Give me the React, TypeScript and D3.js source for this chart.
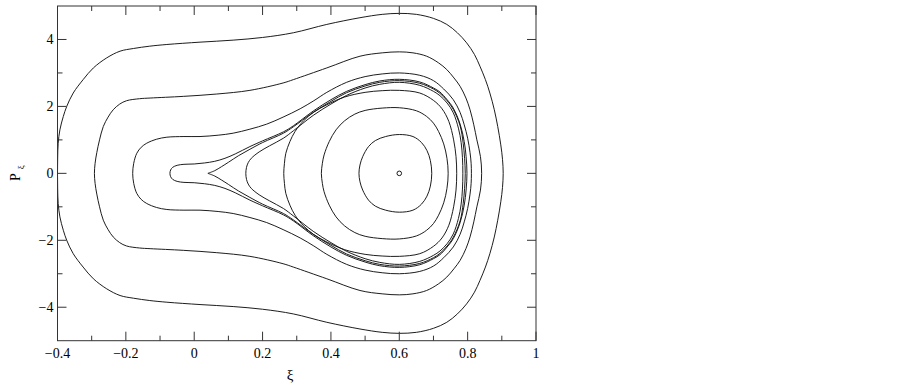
import React from 'react'
import * as d3 from 'd3'

// upper halves of the orbits, [xi, p] (lower half is the mirror image)
const outerOrbit = [
  [-0.4, 0], [-0.3995, 0.45], [-0.398, 0.9], [-0.393, 1.3], [-0.383, 1.7], [-0.373, 2.0], [-0.354, 2.4],
  [-0.325, 2.8], [-0.295, 3.15], [-0.256, 3.45], [-0.217, 3.65], [-0.178, 3.73], [-0.13, 3.8], [-0.08, 3.85],
  [0.017, 3.92], [0.114, 3.98], [0.2, 4.06], [0.29, 4.2], [0.388, 4.45], [0.485, 4.65], [0.55, 4.75],
  [0.6, 4.78], [0.65, 4.75], [0.7, 4.63], [0.739, 4.45], [0.77, 4.2], [0.797, 3.9], [0.82, 3.55],
  [0.836, 3.2], [0.852, 2.8], [0.865, 2.4], [0.878, 1.9], [0.888, 1.4], [0.897, 0.85], [0.902, 0.42], [0.904, 0],
]
const orbit2 = [
  [-0.292, 0], [-0.29, 0.3], [-0.285, 0.62], [-0.277, 1.0], [-0.266, 1.4], [-0.252, 1.68], [-0.237, 1.9],
  [-0.218, 2.07], [-0.198, 2.17], [-0.16, 2.23], [-0.129, 2.25], [-0.032, 2.3], [0.066, 2.37], [0.163, 2.48],
  [0.26, 2.7], [0.29, 2.8], [0.388, 3.15], [0.485, 3.5], [0.55, 3.6], [0.6, 3.63], [0.64, 3.6], [0.68, 3.5],
  [0.715, 3.3], [0.739, 3.1], [0.76, 2.85], [0.778, 2.6], [0.795, 2.25], [0.807, 1.9], [0.818, 1.45],
  [0.827, 1.0], [0.8375, 0.5], [0.841, 0],
]
const orbit3 = [
  [-0.18, 0], [-0.177, 0.3], [-0.168, 0.6], [-0.155, 0.78], [-0.139, 0.9], [-0.11, 1.02], [-0.08, 1.08],
  [-0.03, 1.1], [0.017, 1.1], [0.07, 1.14], [0.114, 1.2], [0.163, 1.32], [0.212, 1.47], [0.26, 1.68],
  [0.31, 1.93], [0.35, 2.17], [0.388, 2.42], [0.446, 2.72], [0.5, 2.89], [0.55, 2.97], [0.6, 3.0],
  [0.66, 2.93], [0.7, 2.77], [0.73, 2.52], [0.758, 2.2], [0.778, 1.82], [0.79, 1.45], [0.8, 1.05],
  [0.807, 0.62], [0.8102, 0.3], [0.811, 0],
]
const tongueOrbit = [
  [-0.071, 0], [-0.069, 0.1], [-0.063, 0.18], [-0.05, 0.24], [-0.03, 0.27], [0, 0.28], [0.03, 0.31],
  [0.06, 0.36], [0.09, 0.45], [0.12, 0.58], [0.163, 0.8], [0.2, 0.97], [0.261, 1.24], [0.29, 1.42],
  [0.348, 1.86], [0.4, 2.2], [0.446, 2.45], [0.5, 2.65], [0.543, 2.76], [0.6, 2.81], [0.66, 2.73],
  [0.7, 2.55], [0.719, 2.43], [0.74, 2.2], [0.758, 1.95], [0.778, 1.47], [0.79, 0.95], [0.7955, 0.5], [0.798, 0],
]
const separatrix = [
  [0.04, 0], [0.06, 0.08], [0.08, 0.2], [0.1, 0.33], [0.13, 0.53], [0.163, 0.72], [0.2, 0.92], [0.261, 1.2],
  [0.29, 1.39], [0.348, 1.82], [0.4, 2.15], [0.446, 2.41], [0.5, 2.61], [0.543, 2.72], [0.6, 2.77],
  [0.66, 2.69], [0.7, 2.52], [0.719, 2.39], [0.74, 2.17], [0.758, 1.91], [0.778, 1.42], [0.787, 0.9],
  [0.791, 0.45], [0.793, 0],
]
const orbit015 = [
  [0.151, 0], [0.153, 0.18], [0.158, 0.32], [0.167, 0.45], [0.19, 0.64], [0.22, 0.82], [0.261, 1.05],
  [0.29, 1.27], [0.348, 1.73], [0.4, 2.07], [0.446, 2.33], [0.5, 2.55], [0.543, 2.66], [0.6, 2.72],
  [0.66, 2.63], [0.7, 2.45], [0.719, 2.32], [0.74, 2.1], [0.758, 1.81], [0.773, 1.35], [0.781, 0.92],
  [0.7848, 0.47], [0.786, 0],
]
const orbit026 = [
  [0.262, 0], [0.264, 0.3], [0.268, 0.6], [0.28, 0.95], [0.295, 1.25], [0.32, 1.57], [0.35, 1.83],
  [0.388, 2.05], [0.44, 2.28], [0.5, 2.42], [0.55, 2.47], [0.6, 2.48], [0.66, 2.4], [0.7, 2.18],
  [0.725, 1.93], [0.745, 1.55], [0.759, 1.0], [0.766, 0.5], [0.768, 0],
]
const orbit037 = [
  [0.372, 0], [0.375, 0.3], [0.38, 0.55], [0.395, 0.95], [0.415, 1.3], [0.44, 1.57], [0.47, 1.77],
  [0.5, 1.88], [0.55, 1.95], [0.6, 1.96], [0.65, 1.87], [0.68, 1.7], [0.7, 1.5], [0.715, 1.25],
  [0.73, 0.88], [0.7395, 0.45], [0.743, 0],
]
const orbit048 = [
  [0.482, 0], [0.485, 0.25], [0.493, 0.5], [0.51, 0.8], [0.53, 0.98], [0.56, 1.1], [0.6, 1.16],
  [0.64, 1.1], [0.665, 0.92], [0.681, 0.68], [0.691, 0.38], [0.695, 0],
]
const centerPoint = [0.6, 0]

const closedOrbits = [outerOrbit, orbit2, orbit3, tongueOrbit, orbit015, orbit026, orbit037, orbit048]

const xMajor = [-0.4, -0.2, 0, 0.2, 0.4, 0.6, 0.8, 1]
const xLabels = ['\u22120.4', '\u22120.2', '0', '0.2', '0.4', '0.6', '0.8', '1']
const xMinor = [-0.3, -0.1, 0.1, 0.3, 0.5, 0.7, 0.9]
const yMajor = [-4, -2, 0, 2, 4]
const yLabels = ['\u22124', '\u22122', '0', '2', '4']
const yMinor = [-3, -1, 1, 3]

export default function App() {
  const x = d3.scaleLinear().domain([-0.4, 1]).range([57.5, 536])
  const y = d3.scaleLinear().domain([-5, 5]).range([340.7, 6])

  const mirror = (half: number[][]) => half.slice(1, -1).reverse().map(([a, b]) => [a, -b])

  const closedLine = d3
    .line<number[]>()
    .x((d) => x(d[0]))
    .y((d) => y(d[1]))
    .curve(d3.curveCatmullRomClosed)

  const openLine = d3
    .line<number[]>()
    .x((d) => x(d[0]))
    .y((d) => y(d[1]))
    .curve(d3.curveCatmullRom)

  // cusp curve: open path so the cusp stays sharp
  const sepPts = [...separatrix, ...separatrix.slice(0, -1).reverse().map(([a, b]) => [a, -b])]

  const [x0, x1] = x.range()
  const [yb, yt] = y.range()
  const font = '"Liberation Serif", "Times New Roman", serif'
  const major = 9
  const minor = 5

  return (
    <svg width={902} height={390} style={{ position: 'absolute', left: 0, top: 0, background: '#fff' }}>
      <g fill="none" stroke="#111" strokeWidth={0.95}>
        {closedOrbits.map((half, i) => (
          <path key={i} d={closedLine([...half, ...mirror(half)]) as string} />
        ))}
        <path d={openLine(sepPts) as string} />
        <circle cx={x(centerPoint[0])} cy={y(centerPoint[1])} r={2.3} />
      </g>

      {/* frame and ticks */}
      <g stroke="#333" strokeWidth={1} fill="none">
        <rect x={x0} y={yt} width={x1 - x0} height={yb - yt} />
        {xMajor.map((v) => (
          <g key={'xM' + v}>
            <line x1={x(v)} x2={x(v)} y1={yb} y2={yb - major} />
            <line x1={x(v)} x2={x(v)} y1={yt} y2={yt + major} />
          </g>
        ))}
        {xMinor.map((v) => (
          <g key={'xm' + v}>
            <line x1={x(v)} x2={x(v)} y1={yb} y2={yb - minor} />
            <line x1={x(v)} x2={x(v)} y1={yt} y2={yt + minor} />
          </g>
        ))}
        {yMajor.map((v) => (
          <g key={'yM' + v}>
            <line x1={x0} x2={x0 + major} y1={y(v)} y2={y(v)} />
            <line x1={x1} x2={x1 - major} y1={y(v)} y2={y(v)} />
          </g>
        ))}
        {yMinor.map((v) => (
          <g key={'ym' + v}>
            <line x1={x0} x2={x0 + minor} y1={y(v)} y2={y(v)} />
            <line x1={x1} x2={x1 - minor} y1={y(v)} y2={y(v)} />
          </g>
        ))}
      </g>

      <g fontFamily={font} fontSize={14} fill="#000">
        {xMajor.map((v, i) => (
          <text key={'xl' + v} x={x(v)} y={yb + 17} textAnchor="middle">
            {xLabels[i]}
          </text>
        ))}
        {yMajor.map((v, i) => (
          <text key={'yl' + v} x={x0 - 4} y={y(v)} textAnchor="end" dominantBaseline="central">
            {yLabels[i]}
          </text>
        ))}
        <text x={290} y={380} textAnchor="middle" fontSize={15}>
          ξ
        </text>
        <text transform={`translate(20,181) rotate(-90)`} fontSize={14}>
          P
          <tspan dx={4} dy={4} fontSize={9}>
            ξ
          </tspan>
        </text>
      </g>
    </svg>
  )
}
